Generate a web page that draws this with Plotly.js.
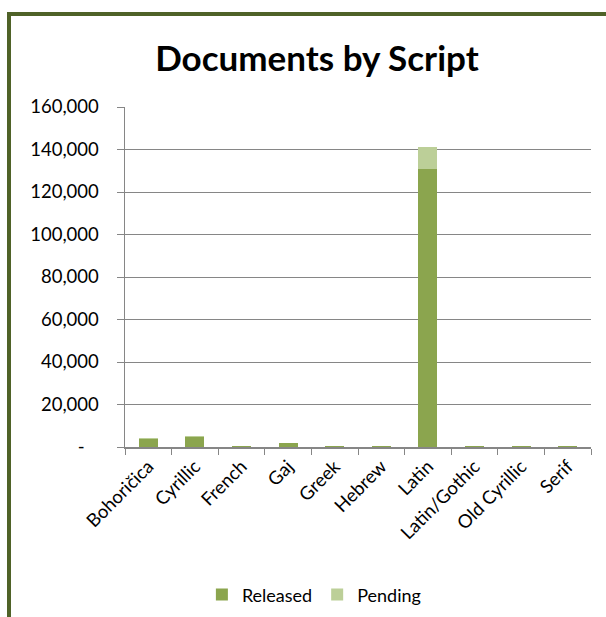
<!DOCTYPE html>
<html>
<head>
<meta charset="utf-8">
<script src="https://cdn.plot.ly/plotly-3.0.1.min.js"></script>
<style>
html,body{margin:0;padding:0;overflow:hidden;background:#fff;}
#chart{position:absolute;left:0;top:0;width:606px;height:617px;}
#frame{position:absolute;left:7px;top:12px;width:700px;height:700px;border-left:4px solid #4f6228;border-top:4px solid #4f6228;pointer-events:none;}
</style>
</head>
<body>
<div id="chart"></div>
<div id="frame"></div>
<script>
const categories = ["Bohoričica","Cyrillic","French","Gaj","Greek","Hebrew","Latin","Latin/Gothic","Old Cyrillic","Serif"];
const released = [4000, 4600, 300, 1700, 250, 250, 130700, 300, 300, 250];
const pending  = [100, 800, 0, 100, 0, 0, 10300, 0, 0, 0];
const tickValues = [0, 20000, 40000, 60000, 80000, 100000, 120000, 140000, 160000];
const tickLabels = ["-\u00a0\u00a0\u00a0", "20,000", "40,000", "60,000", "80,000", "100,000", "120,000", "140,000", "160,000"];

const FONT = "Lato, 'Open Sans', sans-serif";
const data = [
  {type:"bar", name:"Released", x:categories, y:released, marker:{color:"#8ba54e"}},
  {type:"bar", name:"Pending", x:categories, y:pending, marker:{color:"#bccf98"}}
];
const layout = {
  width:606, height:617,
  paper_bgcolor:"#fff", plot_bgcolor:"#fff",
  barmode:"stack", bargap:0.59,
  margin:{l:125, r:15, t:107, b:170, pad:0, autoexpand:false},
  font:{family:FONT, size:18, color:"#000"},
  title:{text:"<b>Documents by Script</b>", font:{family:FONT, size:35, color:"#000"}, x:0.523, xanchor:"center", y:0.905, yanchor:"middle"},
  xaxis:{type:"category", tickangle:-45, showline:true, linecolor:"#868686", linewidth:1.5,
         ticks:"outside", tickson:"boundaries", ticklen:6, tickcolor:"#868686",
         showgrid:false, tickfont:{family:FONT, size:18.5}, automargin:false},
  yaxis:{range:[0,160000], tickvals:tickValues, ticktext:tickLabels, showline:true, linecolor:"#868686", linewidth:1.5,
         ticks:"outside", ticklen:7, tickcolor:"#868686", gridcolor:"#868686", gridwidth:1,
         zeroline:false, tickfont:{family:FONT, size:18.5}, ticklabelstandoff:14, automargin:false},
  showlegend:true,
  legend:{orientation:"h", x:0.165, xanchor:"left", yref:"container", y:0.036, yanchor:"middle", font:{family:FONT, size:18}, traceorder:"normal", itemwidth:30}
};
Plotly.newPlot("chart", data, layout, {displayModeBar:false, staticPlot:true});
</script>
</body>
</html>
